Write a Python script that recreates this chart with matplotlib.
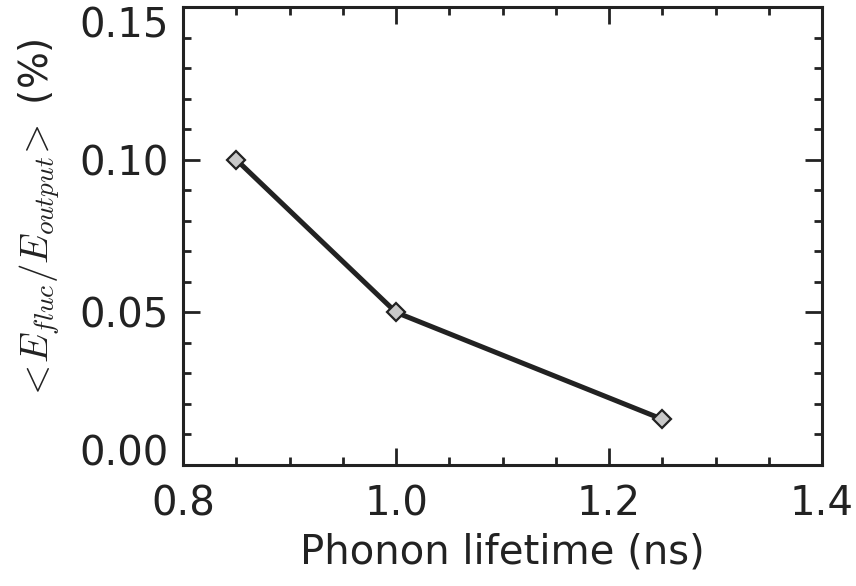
import numpy as np
import matplotlib.pyplot as plt
from matplotlib.ticker import MultipleLocator

plt.rcParams['mathtext.fontset'] = 'cm'

# Datos
lifetime = [0.85, 1.0, 1.25]          # ns
fluct = [0.100, 0.050, 0.015]         # %

xticks = [0.8, 1.0, 1.2, 1.4]
yticks = [0.00, 0.05, 0.10, 0.15]

fig = plt.figure(figsize=(8.56, 5.86), dpi=100)
ax = fig.add_axes([183 / 856, 1 - 465 / 586, 639 / 856, 458 / 586])

ax.plot(lifetime, fluct, color='#222222', lw=3.6, marker='D', ms=9,
        mfc='#c8c8c8', mec='#222222', mew=1.6)

ax.set_xlim(0.8, 1.4)
ax.set_ylim(0.0, 0.15)
ax.set_xticks(xticks)
ax.set_yticks(yticks)
ax.set_xticklabels([f'{v:.1f}' for v in xticks])
ax.set_yticklabels([f'{v:.2f}' for v in yticks])
ax.xaxis.set_minor_locator(MultipleLocator(0.05))
ax.yaxis.set_minor_locator(MultipleLocator(0.01))

ax.tick_params(which='both', direction='in', top=True, right=True,
               labelsize=29, width=2, color='#222222', labelcolor='#222222')
ax.tick_params(which='major', length=12)
ax.tick_params(axis='y', which='major', pad=10)
ax.tick_params(axis='x', which='major', pad=14)
ax.tick_params(which='minor', length=6)

# etiquetas extremas del eje y dentro del rango, como en el original
ylab = ax.get_yticklabels()
ylab[0].set_verticalalignment('baseline')
ylab[-1].set_verticalalignment('top')

for s in ax.spines.values():
    s.set_linewidth(2.2)
    s.set_color('#222222')

ax.set_xlabel('Phonon lifetime (ns)', fontsize=29, color='#222222', labelpad=6)
ax.set_ylabel(r'$<\!E_{fluc}/E_{output}\!>$ (%)', fontsize=28, color='#222222')
ax.yaxis.set_label_coords(-0.19, 0.535)

fig.savefig('out.png', dpi=100)
